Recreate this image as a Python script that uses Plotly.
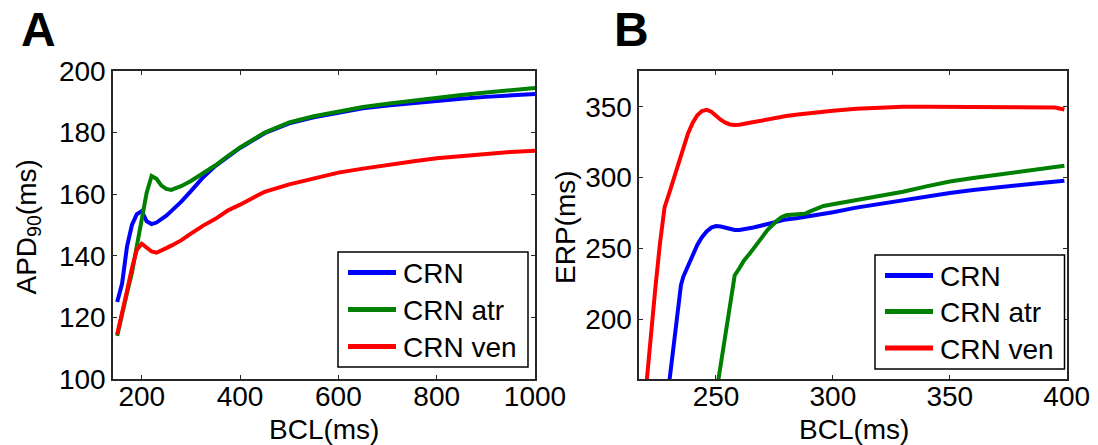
import plotly.graph_objects as go

# ---------------- Panel A data (APD90 vs BCL) ----------------
bcl_a = [150, 160, 170, 180, 190, 200, 210, 220, 230, 240, 250, 260, 280, 300, 325,
         350, 375, 400, 450, 500, 550, 600, 650, 700, 750, 800, 850, 900, 950, 1000]
apd_crn = [125, 131, 143, 150, 153.5, 154.5, 151.2, 150.3, 150.8, 151.8, 153, 154.5, 157.5,
           161, 165.5, 169.2, 172.2, 175, 179.8, 183, 185, 186.3, 187.9, 188.8, 189.6,
           190.4, 191, 191.6, 192, 192.5]
apd_atr = [114, 121.5, 128, 134.5, 143, 153, 160.5, 165.9, 165, 162.8, 161.7, 161.4, 162.6,
           164.3, 166.8, 169.4, 172.4, 175.2, 180, 183.3, 185.3, 186.8, 188.3, 189.4,
           190.4, 191.4, 192.2, 193, 193.8, 194.5]
apd_ven = [114.5, 121, 128.5, 136, 142, 143.9, 142.8, 141.4, 141, 141.6, 142.5, 143.3, 145,
           147.2, 149.8, 152, 154.7, 156.6, 160.8, 163.2, 165.2, 167, 168.3, 169.6, 170.6,
           171.7, 172.4, 173.1, 173.7, 174.1]

# ---------------- Panel B data (ERP vs BCL) ----------------
bcl_b_crn = [228, 230, 232, 234, 235, 236, 238, 240, 242, 244, 246, 248, 250, 252, 254, 256,
             258, 260, 262, 264, 266, 270, 275, 280, 285, 290, 295, 300, 310, 320, 330, 340,
             350, 360, 370, 380, 390, 399]
erp_crn = [128, 154, 181, 207, 224, 230, 237.5, 245, 252.5, 258, 262, 264.7, 265.8, 265.5,
           264.5, 263.6, 263.1, 263.1, 263.5, 264, 264.8, 266.4, 268.8, 270.5, 271.5, 272.8,
           274.2, 275.6, 278.8, 281.5, 283.8, 286.6, 289.1, 291.2, 293.1, 294.9, 296.4, 297.8]

bcl_b_atr = [249, 251, 253, 255, 257, 258, 260, 262, 264, 266, 268, 270, 272, 274, 276, 278,
             280, 282, 285, 288, 290, 293, 296, 300, 310, 320, 330, 340, 350, 360, 370, 380,
             390, 399]
erp_atr = [136, 158, 180, 201, 222, 231, 236, 241.5, 245.5, 249.5, 254, 258.5, 263, 266.5,
           269.5, 272, 273.4, 273.8, 274, 274.5, 276, 278.3, 280, 281.2, 284, 287.3, 290,
           293.8, 297.3, 299.7, 301.8, 304, 306, 308.4]

bcl_b_ven = [219, 220, 222, 224, 226, 228, 230, 232, 234, 236, 238, 240, 242, 244, 246, 248,
             250, 252, 254, 256, 258, 260, 265, 270, 275, 280, 285, 290, 295, 300, 310, 320,
             330, 340, 350, 360, 370, 380, 390, 395, 399]
erp_ven = [132, 151, 189, 221, 253, 279, 289, 299, 309, 321, 331, 338.5, 344, 347, 347.8,
           346.5, 343.5, 340.8, 338.7, 337.5, 337.1, 337.3, 338.8, 340.5, 342.2, 343.4, 344.5,
           345.5, 346.5, 347.2, 348.5, 349.3, 350, 350, 350, 350, 350, 350, 350, 349.5, 348]

names = ["CRN", "CRN atr", "CRN ven"]
colors = ["#0000FF", "#008000", "#FF0000"]

FONT = "Liberation Sans, Arial, sans-serif"
LW = 4
W, H = 1098, 445

fig = go.Figure()

for name, col, ys in zip(names, colors, [apd_crn, apd_atr, apd_ven]):
    fig.add_trace(go.Scatter(x=bcl_a, y=ys, mode="lines", name=name,
                             line=dict(color=col, width=LW),
                             xaxis="x", yaxis="y", showlegend=False))

for name, col, xs, ys in zip(names, colors, [bcl_b_crn, bcl_b_atr, bcl_b_ven],
                             [erp_crn, erp_atr, erp_ven]):
    fig.add_trace(go.Scatter(x=xs, y=ys, mode="lines", name=name,
                             line=dict(color=col, width=LW),
                             xaxis="x2", yaxis="y2", showlegend=False))

ax_common = dict(showline=True, linecolor="#262626", linewidth=1.5, mirror="ticks",
                 ticks="inside", ticklen=4, tickcolor="#262626", tickwidth=1,
                 showgrid=False, zeroline=False, automargin=False,
                 tickfont=dict(family=FONT, size=28, color="black"))

ydom = [66 / H, 374 / H]

fig.update_layout(
    width=W, height=H, autosize=False,
    margin=dict(l=0, r=0, t=0, b=0, pad=0, autoexpand=False),
    paper_bgcolor="white", plot_bgcolor="white",
    showlegend=False,
    xaxis=dict(domain=[113 / W, 535 / W], range=[141.5, 1000],
               tickvals=[200, 400, 600, 800, 1000], anchor="y",
               ticklabelstandoff=-8, **ax_common),
    yaxis=dict(domain=ydom, range=[100, 200],
               tickvals=[100, 120, 140, 160, 180, 200], anchor="x", **ax_common),
    xaxis2=dict(domain=[639.3 / W, 1066.7 / W], range=[217.2, 400],
                tickvals=[250, 300, 350, 400], anchor="y2",
                ticklabelstandoff=-8, **ax_common),
    yaxis2=dict(domain=ydom, range=[157.9, 375.2],
                tickvals=[200, 250, 300, 350], anchor="x2", **ax_common),
)

# ---- legend boxes (drawn in pixel positions of the figure) ----
def px(x):
    return x / W


def py(y):
    return 1 - y / H


legend_specs = [
    # box x0, x1, y0, y1, line x0, line x1, text x, item y positions
    (338, 528, 252, 367, 348, 396, 401, [272.5, 309.5, 346.5]),
    (875, 1064.5, 255, 369, 885, 933, 938, [275.5, 311.5, 348]),
]
for bx0, bx1, by0, by1, lx0, lx1, tx, ys in legend_specs:
    fig.add_shape(type="rect", xref="paper", yref="paper",
                  x0=px(bx0), x1=px(bx1), y0=py(by1), y1=py(by0),
                  line=dict(color="black", width=1.5), fillcolor="white", layer="above")
    for name, col, yy in zip(names, colors, ys):
        fig.add_shape(type="line", xref="paper", yref="paper",
                      x0=px(lx0), x1=px(lx1), y0=py(yy), y1=py(yy),
                      line=dict(color=col, width=5), layer="above")
        fig.add_annotation(xref="paper", yref="paper", x=px(tx), y=py(yy + 1),
                           xanchor="left", yanchor="middle", showarrow=False,
                           text=name, font=dict(family=FONT, size=28, color="black"))

annots = [
    dict(text="<b>A</b>", x=38.8 / W, y=1 - 30 / H, font=dict(size=48)),
    dict(text="<b>B</b>", x=631 / W, y=1 - 30 / H, font=dict(size=48)),
    dict(text="BCL(ms)", x=324 / W, y=1 - 429 / H, font=dict(size=28)),
    dict(text="BCL(ms)", x=854 / W, y=1 - 429 / H, font=dict(size=28)),
    dict(text="APD<sub>90</sub>(ms)", x=27.5 / W, y=1 - 227 / H, font=dict(size=28),
         textangle=-90),
    dict(text="ERP(ms)", x=565 / W, y=1 - 227 / H, font=dict(size=28), textangle=-90),
]
for a in annots:
    a["font"].update(family=FONT, color="black")
    fig.add_annotation(xref="paper", yref="paper", xanchor="center", yanchor="middle",
                       showarrow=False, **a)

fig.write_html("out.html")
